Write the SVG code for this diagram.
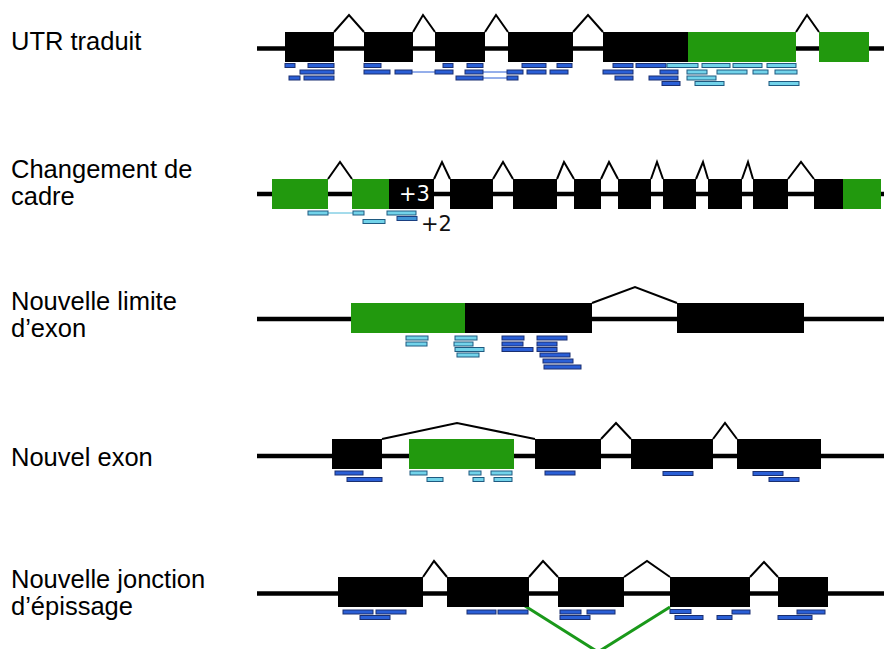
<svg xmlns="http://www.w3.org/2000/svg" width="884" height="649" viewBox="0 0 884 649">
<style>
.lab{font-family:"Liberation Sans",Arial,sans-serif;font-size:25.5px;fill:#000}
.bb{stroke:#000;stroke-width:4.5}
.ex{fill:#000}
.g{fill:#22990e}
.in{fill:none;stroke:#000;stroke-width:2;stroke-linejoin:miter}
.r{fill:#2a5fd6;stroke:#1a2f70;stroke-width:1}
.l{fill:#72d3ea;stroke:#1f5a80;stroke-width:1}
.m{fill:#3f95d6;stroke:#1a3f80;stroke-width:1}
.lk{stroke:#2a5fd6;stroke-width:1}
.lkl{stroke:#4ab8d8;stroke-width:1}
.num{font-family:"DejaVu Sans",Verdana,sans-serif;font-size:21px}
.jn{fill:none;stroke:#1a991a;stroke-width:3}
</style>
<rect width="884" height="649" fill="#fff"/>

<g id="labels">
<text class="lab" x="11" y="50">UTR traduit</text>
<text class="lab" x="11" y="178">Changement de</text>
<text class="lab" x="11" y="205">cadre</text>
<text class="lab" x="11" y="310">Nouvelle limite</text>
<text class="lab" x="11" y="337">d’exon</text>
<text class="lab" x="11" y="466">Nouvel exon</text>
<text class="lab" x="11" y="588">Nouvelle jonction</text>
<text class="lab" x="11" y="615">d’épissage</text>
</g>

<g id="connectors">
<!-- row 1 introns -->
<polyline class="in" points="334,32 349,15 364,32"/>
<polyline class="in" points="413,32 423,15 435,32"/>
<polyline class="in" points="485,32 496,15 508,32"/>
<polyline class="in" points="573,32 588,15 603,32"/>
<polyline class="in" points="796,32 807,15 819,32"/>
<!-- row 2 introns -->
<polyline class="in" points="328,179 340,162 352,179"/>
<polyline class="in" points="434,179 442,162 450,179"/>
<polyline class="in" points="493,179 503,162 513,179"/>
<polyline class="in" points="557,179 564,162 574,179"/>
<polyline class="in" points="601,179 609,162 618,179"/>
<polyline class="in" points="651,179 657,162 663,179"/>
<polyline class="in" points="696,179 703,162 708,179"/>
<polyline class="in" points="742,179 748,162 753,179"/>
<polyline class="in" points="788,179 801,162 814,179"/>
<!-- row 3 introns -->
<polyline class="in" points="592,303 635,287 677,303"/>
<!-- row 4 introns -->
<polyline class="in" points="382,439 457,423 535,439"/>
<polyline class="in" points="601,439 616,423 631,439"/>
<polyline class="in" points="713,439 725,423 737,439"/>
<!-- row 5 introns -->
<polyline class="in" points="423,577 434,561 447,577"/>
<polyline class="in" points="529,577 543,561 558,577"/>
<polyline class="in" points="624,577 647,561 670,577"/>
<polyline class="in" points="750,577 764,562 778,577"/>
<!-- new junction -->
<polyline class="jn" points="525,606 598,652 670,607"/>
</g>

<g id="utr-traduit">
<line class="bb" x1="257" y1="48.5" x2="884" y2="48.5"/>
<rect class="ex" x="285" y="32" width="49" height="30"/>
<rect class="ex" x="364" y="32" width="49" height="30"/>
<rect class="ex" x="435" y="32" width="50" height="30"/>
<rect class="ex" x="508" y="32" width="65" height="30"/>
<rect class="ex" x="603" y="32" width="85" height="30"/>
<rect class="g" x="688" y="32" width="108" height="30"/>
<rect class="g" x="819" y="32" width="50" height="30"/>
<line class="lk" x1="412" y1="72" x2="435" y2="72"/>
<line class="lk" x1="483" y1="72" x2="507" y2="72"/>
<line class="lk" x1="483" y1="78" x2="507" y2="78"/>
<rect class="r" x="285" y="63.5" width="10" height="4"/>
<rect class="r" x="308" y="63.5" width="26" height="4"/>
<rect class="r" x="364" y="63.5" width="17" height="4"/>
<rect class="r" x="443" y="63.5" width="10" height="4"/>
<rect class="r" x="467" y="63.5" width="16" height="4"/>
<rect class="r" x="522" y="63.5" width="24" height="4"/>
<rect class="r" x="557" y="63.5" width="15" height="4"/>
<rect class="r" x="613" y="63.5" width="20" height="4"/>
<rect class="r" x="636" y="63.5" width="30" height="4"/>
<rect class="r" x="300" y="70" width="34" height="4"/>
<rect class="r" x="364" y="70" width="26" height="4"/>
<rect class="r" x="395" y="70" width="17" height="4"/>
<rect class="r" x="435" y="70" width="18" height="4"/>
<rect class="r" x="465" y="70" width="18" height="4"/>
<rect class="r" x="507" y="70" width="16" height="4"/>
<rect class="r" x="527" y="70" width="19" height="4"/>
<rect class="r" x="550" y="70" width="18" height="4"/>
<rect class="r" x="603" y="70" width="30" height="4"/>
<rect class="r" x="660" y="70" width="18" height="4"/>
<rect class="r" x="289" y="76" width="11" height="4"/>
<rect class="r" x="304" y="76" width="30" height="4"/>
<rect class="r" x="456" y="76" width="27" height="4"/>
<rect class="r" x="507" y="76" width="11" height="4"/>
<rect class="r" x="615" y="76" width="18" height="4"/>
<rect class="r" x="649" y="76" width="29" height="4"/>
<rect class="r" x="662" y="81.5" width="18" height="4"/>
<rect class="l" x="667" y="63.5" width="31" height="4"/>
<rect class="l" x="702" y="63.5" width="28" height="4"/>
<rect class="l" x="733" y="63.5" width="29" height="4"/>
<rect class="l" x="767" y="63.5" width="29" height="4"/>
<rect class="l" x="687" y="70" width="20" height="4"/>
<rect class="l" x="717" y="70" width="30" height="4"/>
<rect class="l" x="753" y="70" width="15" height="4"/>
<rect class="l" x="775" y="70" width="22" height="4"/>
<rect class="l" x="687" y="76" width="29" height="4"/>
<rect class="l" x="695" y="81.5" width="29" height="4"/>
<rect class="l" x="769" y="81.5" width="30" height="4"/>
</g>

<g id="changement-de-cadre">
<line class="bb" x1="257" y1="194" x2="884" y2="194"/>
<rect class="g" x="272" y="179" width="56" height="30"/>
<rect class="g" x="352" y="179" width="38" height="30"/>
<rect class="ex" x="389" y="179" width="45" height="30"/>
<rect class="ex" x="450" y="179" width="43" height="30"/>
<rect class="ex" x="513" y="179" width="44" height="30"/>
<rect class="ex" x="574" y="179" width="27" height="30"/>
<rect class="ex" x="618" y="179" width="33" height="30"/>
<rect class="ex" x="663" y="179" width="33" height="30"/>
<rect class="ex" x="708" y="179" width="34" height="30"/>
<rect class="ex" x="753" y="179" width="35" height="30"/>
<rect class="ex" x="814" y="179" width="30" height="30"/>
<rect class="g" x="843" y="179" width="38" height="30"/>
<text class="num" x="399" y="201" fill="#fff">+3</text>
<line class="lkl" x1="328" y1="213" x2="353" y2="213"/>
<rect class="l" x="308" y="211" width="20" height="4"/>
<rect class="l" x="353" y="211" width="11" height="4"/>
<rect class="l" x="387" y="211" width="29" height="4"/>
<rect class="l" x="363" y="219.5" width="22" height="4"/>
<rect class="m" x="397" y="216.5" width="20" height="4"/>
<text class="num" x="421" y="231" fill="#111">+2</text>
</g>

<g id="nouvelle-limite-exon">
<line class="bb" x1="257" y1="319" x2="884" y2="319"/>
<rect class="g" x="351" y="303" width="114" height="30"/>
<rect class="ex" x="465" y="303" width="127" height="30"/>
<rect class="ex" x="677" y="303" width="127" height="30"/>
<rect class="l" x="406" y="336" width="22" height="4"/>
<rect class="l" x="406" y="342" width="21" height="4"/>
<rect class="l" x="455" y="336" width="22" height="4"/>
<rect class="l" x="454" y="342" width="19" height="4"/>
<rect class="l" x="455" y="347.5" width="29" height="4"/>
<rect class="l" x="457" y="353" width="22" height="4"/>
<rect class="r" x="502" y="336" width="22" height="4"/>
<rect class="r" x="502" y="342" width="21" height="4"/>
<rect class="r" x="502" y="347.5" width="31" height="4"/>
<rect class="r" x="537" y="336" width="30" height="4"/>
<rect class="r" x="537" y="342" width="20" height="4"/>
<rect class="r" x="537" y="347.5" width="20" height="4"/>
<rect class="r" x="540" y="353" width="30" height="4"/>
<rect class="r" x="543" y="359" width="30" height="4"/>
<rect class="r" x="544" y="365" width="37" height="4"/>
</g>

<g id="nouvel-exon">
<line class="bb" x1="257" y1="456" x2="884" y2="456"/>
<rect class="ex" x="332" y="439" width="50" height="30"/>
<rect class="g" x="409" y="439" width="105" height="30"/>
<rect class="ex" x="535" y="439" width="66" height="30"/>
<rect class="ex" x="631" y="439" width="82" height="30"/>
<rect class="ex" x="737" y="439" width="84" height="30"/>
<rect class="r" x="335" y="471" width="28" height="4"/>
<rect class="r" x="347" y="477.5" width="35" height="4"/>
<rect class="l" x="410" y="471" width="17" height="4"/>
<rect class="l" x="427" y="477.5" width="16" height="4"/>
<rect class="l" x="469" y="471" width="12" height="4"/>
<rect class="l" x="473" y="477.5" width="11" height="4"/>
<rect class="l" x="491" y="471" width="21" height="4"/>
<rect class="l" x="494" y="477.5" width="18" height="4"/>
<rect class="r" x="545" y="471" width="30" height="4"/>
<rect class="r" x="663" y="471.5" width="30" height="4"/>
<rect class="r" x="753" y="471.5" width="30" height="4"/>
<rect class="r" x="769" y="477.5" width="30" height="4"/>
</g>

<g id="nouvelle-jonction">
<line class="bb" x1="257" y1="593.5" x2="884" y2="593.5"/>
<rect class="ex" x="338" y="577" width="85" height="30"/>
<rect class="ex" x="447" y="577" width="82" height="30"/>
<rect class="ex" x="558" y="577" width="66" height="30"/>
<rect class="ex" x="670" y="577" width="80" height="30"/>
<rect class="ex" x="778" y="577" width="50" height="30"/>
<rect class="r" x="343" y="610" width="30" height="4"/>
<rect class="r" x="376" y="610" width="30" height="4"/>
<rect class="r" x="360" y="615.5" width="30" height="4"/>
<rect class="r" x="467" y="610" width="29" height="4"/>
<rect class="r" x="498" y="610" width="30" height="4"/>
<rect class="r" x="560" y="610" width="21" height="4"/>
<rect class="r" x="587" y="610" width="28" height="4"/>
<rect class="r" x="560" y="615.5" width="30" height="4"/>
<rect class="r" x="670" y="609.5" width="21" height="4"/>
<rect class="r" x="675" y="615.5" width="28" height="4"/>
<rect class="r" x="717" y="615.5" width="15" height="4"/>
<rect class="r" x="732" y="610" width="18" height="4"/>
<rect class="r" x="778" y="615.5" width="34" height="4"/>
<rect class="r" x="797" y="610" width="28" height="4"/>
</g>
</svg>
